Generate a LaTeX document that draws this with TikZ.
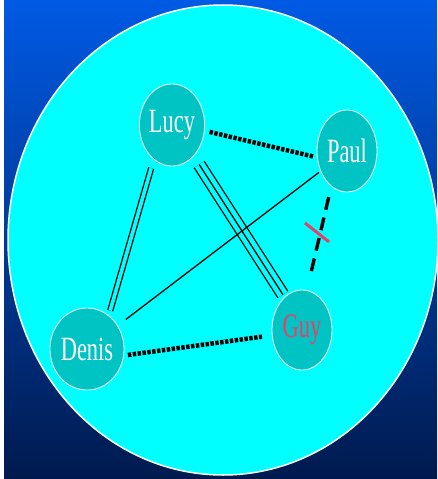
\documentclass[tikz,border=0pt]{standalone}
\usepackage{fontspec}
\setmainfont{Liberation Serif}
\usetikzlibrary{shapes.geometric,calc}
\definecolor{SkyTop}{RGB}{0,90,228}
\definecolor{NightBottom}{RGB}{0,26,78}
\definecolor{PoolCyan}{RGB}{0,255,255}
\definecolor{NodeTeal}{RGB}{0,196,196}
\definecolor{GuyRed}{RGB}{232,64,104}
\tikzset{
  person/.style={ellipse, draw=white, line width=0.8pt, fill=NodeTeal, minimum width=59pt,
    minimum height=82pt, inner sep=0pt, text=white, font=\fontsize{34}{37}\selectfont},
  tie/.style={line width=1.3pt, black},
  twotie/.style={tie, double=PoolCyan, double distance=3.7pt},
  threetie/.style={tie, double=PoolCyan, double distance=10.5pt},
  closetie/.style={line width=4.5pt, black, dash pattern=on 3.4pt off 1.5pt},
  breaktie/.style={line width=3.4pt, black, dash pattern=on 13pt off 8pt},
  cutmark/.style={line width=3pt, GuyRed},
}
\newcommand{\nm}[1]{\scalebox{0.66}[1]{#1}}

\begin{document}
\begin{tikzpicture}[x=1pt, y=-1pt]
  \useasboundingbox (0,0) rectangle (437,479);
  % backdrop
  \fill[white] (0,0) rectangle (437,479);
  \shade[top color=SkyTop, bottom color=NightBottom] (4,0) rectangle (437,479);
  \draw[white, line width=1.5pt, fill=PoolCyan] (223,240) ellipse [x radius=215pt, y radius=235pt];
  % people
  \node[person] (lucy) at (172,125) {\nm{Lucy}};
  \node[person, minimum width=60pt] (paul) at (347,151) {\nm{Paul}};
  \node[person] (denis) at (87,349) {\nm{Denis}};
  \node[person, text=GuyRed, minimum width=60pt, minimum height=80pt] (guy) at (302,330) {\nm{Guy}};
  % ties
  \draw[closetie, shorten <=5pt, shorten >=4pt] (lucy.350) -- (paul.192);
  \draw[closetie, shorten <=4pt, shorten >=10pt] (denis.350) -- (guy.190);
  \draw[breaktie, shorten <=11pt, shorten >=13.5pt] (paul.246) -- coordinate[pos=0.463] (cut) (guy.83);
  \draw[cutmark] ($(cut)+(-15,-11.5)$) -- ($(cut)+(9,7.5)$);
  \draw[twotie, shorten <=9pt, shorten >=5pt] (lucy.242) -- (denis.57);
  \draw[threetie, shorten <=10pt, shorten >=3pt] (lucy.305.4) -- (guy.118.5);
  \draw[tie, shorten <=10pt, shorten >=3pt] (lucy.305.4) -- (guy.118.5);
  \draw[tie, shorten <=2pt, shorten >=10pt] (paul) -- (denis);
\end{tikzpicture}
\end{document}
